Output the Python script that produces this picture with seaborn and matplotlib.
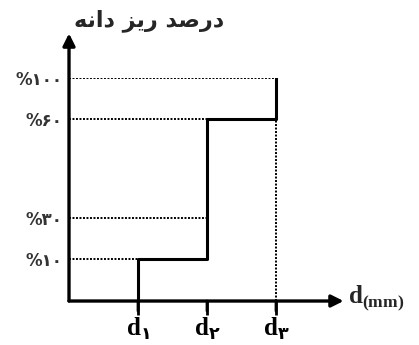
import numpy as np
import pandas as pd
import matplotlib
matplotlib.use('Agg')
import matplotlib.pyplot as plt
import seaborn as sns

sns.set_theme(style='white', rc={'xtick.bottom': True, 'xtick.major.size': 10,
                                 'xtick.major.width': 2, 'xtick.color': 'black'})
plt.rcParams['font.family'] = ['DejaVu Sans']
plt.rcParams['mathtext.fontset'] = 'custom'
plt.rcParams['mathtext.bf'] = 'Liberation Serif:bold'
plt.rcParams['mathtext.rm'] = 'DejaVu Sans:bold'

# data
d_labels = [r'$\mathbf{d}_{\mathrm{۱}}$', r'$\mathbf{d}_{\mathrm{۲}}$', r'$\mathbf{d}_{\mathrm{۳}}$']
d_pos = [1, 2, 3]
passing = [10, 60, 100]          # percent finer at each size
y_ticks = [10, 30, 60, 100]
y_labels = ['%۱۰', '%۳۰', '%۶۰', '%۱۰۰']
guide_end = [1, 2, 2, 3]         # where each dotted guide stops
title = '\uFEEA\uFEE7\uFE8D\uFEA9 \uFEB0\uFBFE\uFEAD \uFEAA\uFEBB\uFEAD\uFEA9'  # درصد ریز دانه

# schematic (non-linear) vertical scale of the sketch
brk_val = [0, 10, 30, 60, 100]
brk_pos = [0, 42, 83, 182, 223]


def fwd(v):
    return np.interp(v, brk_val, brk_pos)


def inv(p):
    return np.interp(p, brk_pos, brk_val)


# step curve
xs, ys = [], []
prev = 0
for x, y in zip(d_pos, passing):
    xs += [x, x]
    ys += [prev, y]
    prev = y
curve = pd.DataFrame({'d': xs, 'p': ys})

fig = plt.figure(figsize=(4.19, 3.45), dpi=100)
ax = fig.add_axes([0.1647, 0.1275, 0.6587, 0.6464])
ax.set_yscale('function', functions=(fwd, inv))

for lvl, xe in zip(y_ticks, guide_end):
    ax.plot([0, xe], [lvl, lvl], color='black', lw=1.4, ls=(0, (1, 0.8)))
ax.plot([3, 3], [0, 60], color='black', lw=1.4, ls=(0, (1, 0.8)))

sns.lineplot(data=curve, x='d', y='p', sort=False, estimator=None,
             color='black', lw=2.2, ax=ax)

ax.set_xlim(0, 4)
ax.set_ylim(0, 100)
for s in ax.spines.values():
    s.set_visible(False)

ax.annotate('', xy=(0, 1.2), xytext=(0, 0), xycoords='axes fraction',
            arrowprops=dict(arrowstyle='-|>', lw=2.4, color='black', mutation_scale=18,
                            shrinkA=0, shrinkB=0), annotation_clip=False)
ax.annotate('', xy=(0.995, 0), xytext=(0, 0), xycoords='axes fraction',
            arrowprops=dict(arrowstyle='-|>', lw=2.4, color='black', mutation_scale=18,
                            shrinkA=0, shrinkB=0), annotation_clip=False)

# small marks under the axis at each size
for x in d_pos:
    ax.annotate('', xy=(x, -0.045), xytext=(x, 0), xycoords=ax.get_xaxis_transform(),
                arrowprops=dict(arrowstyle='-', lw=2, color='black', shrinkA=0, shrinkB=0),
                annotation_clip=False, zorder=10)

ax.set_xticks(d_pos)
ax.set_xticklabels(d_labels, fontsize=18)
ax.set_yticks(y_ticks)
ax.set_yticklabels(y_labels, fontsize=12, fontweight='bold', color='#333333')
ax.tick_params(axis='y', length=0, pad=5)
ax.yaxis.set_minor_locator(matplotlib.ticker.NullLocator())

ax.set_xlabel(r'$\mathbf{d}_{\mathbf{(mm)}}$', fontsize=18)
ax.xaxis.set_label_coords(1.012, 0.01)
ax.xaxis.label.set_ha('left')
ax.xaxis.label.set_va('center')
ax.set_ylabel('')

fig.text(0.355, 0.94, title, fontsize=16, fontweight='bold', ha='center', va='center')

ax.xaxis.set_ticks_position('bottom')
ax.tick_params(axis='x', which='major', direction='out', length=10, width=2,
               color='black', pad=1, bottom=True)

fig.savefig('out.png', dpi=100)
